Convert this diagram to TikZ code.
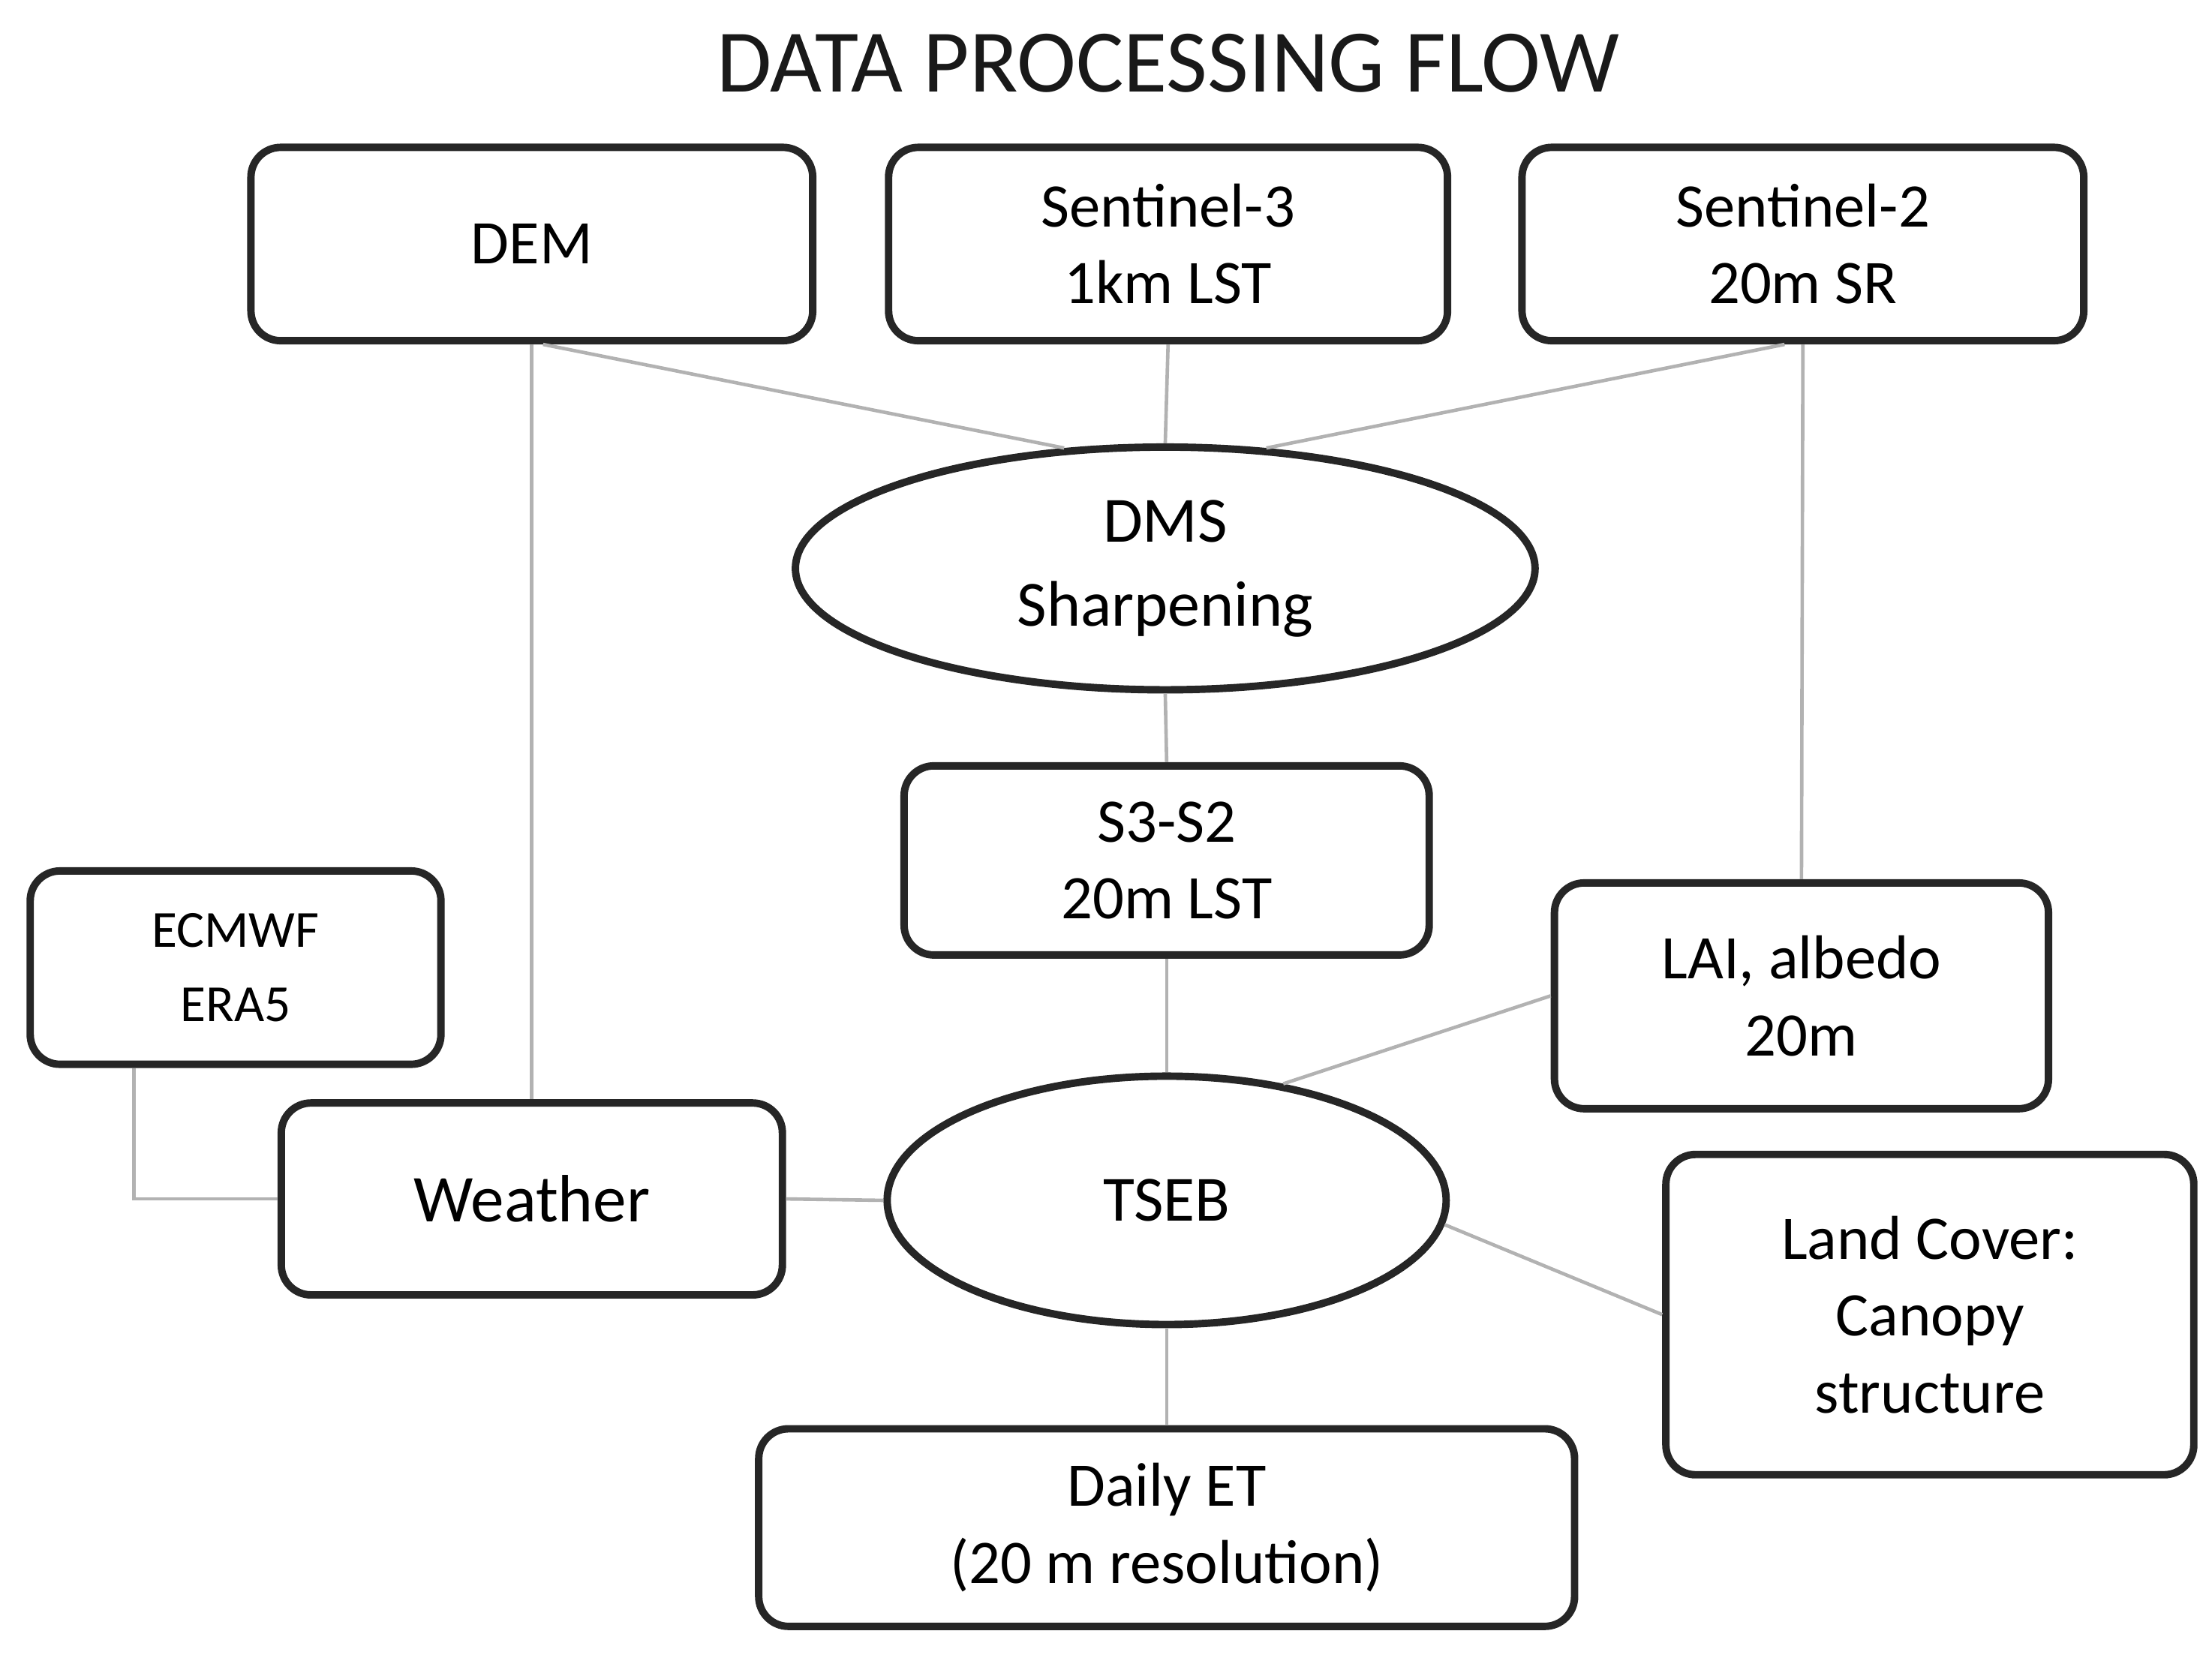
\documentclass[tikz,border=0pt]{standalone}
\usepackage{fontspec}
\setmainfont{Carlito}
\usetikzlibrary{shapes.geometric}
\begin{document}
\begin{tikzpicture}[x=0.01cm,y=-0.01cm,
 box/.style={draw=black!85,line width=1.5pt,rounded corners=6pt,align=center,inner sep=0pt,font=\fontsize{12.5}{15.5}\selectfont},
 ell/.style={draw=black!85,line width=1.5pt,ellipse,inner sep=0pt,align=center,font=\fontsize{13}{17}\selectfont},
 ln/.style={draw=black!30,line width=0.7pt}]
\useasboundingbox (0,0) rectangle (1568,1175);
\node[font=\fontsize{18}{20}\selectfont,text=black!90] (title) at (828,45) {DATA PROCESSING FLOW};
\node[box,minimum width=398\pgflinewidth/1.5pt*0.01cm,minimum width=3.98cm,minimum height=1.37cm] (dem) at (377,173) {DEM};
\node[box,minimum width=3.96cm,minimum height=1.37cm] (s3) at (828,173) {Sentinel-3\\1km LST};
\node[box,minimum width=3.98cm,minimum height=1.37cm] (s2) at (1278,173) {Sentinel-2\\20m SR};
\node[ell,minimum width=5.24cm,minimum height=1.72cm] (dms) at (826,403) {DMS\\Sharpening};
\node[box,minimum width=3.72cm,minimum height=1.34cm] (s3s2) at (827,610) {S3-S2\\20m LST};
\node[box,minimum width=2.91cm,minimum height=1.37cm,font=\fontsize{10.5}{15}\selectfont] (ec) at (167,686) {ECMWF\\ERA5};
\node[box,minimum width=3.5cm,minimum height=1.6cm] (lai) at (1277,706) {LAI, albedo\\20m};
\node[box,minimum width=3.55cm,minimum height=1.36cm,font=\fontsize{13.5}{16}\selectfont] (w) at (377,850) {Weather};
\node[ell,minimum width=3.96cm,minimum height=1.76cm] (tseb) at (827,851) {TSEB};
\node[box,minimum width=3.74cm,minimum height=2.27cm] (lc) at (1368,932) {Land Cover:\\Canopy\\structure};
\node[box,minimum width=5.78cm,minimum height=1.4cm] (et) at (827,1083) {Daily ET\\(20 m resolution)};
\draw[ln] (dem.south) -- (w.north);
\draw[ln] ([xshift=0.08cm]dem.south) -- (dms.130);
\draw[ln] (s3.south) -- (dms.north);
\draw[ln] ([xshift=-0.13cm]s2.south) -- (dms.50);
\draw[ln] (s2.south) -- (lai.north);
\draw[ln] (dms.south) -- (s3s2.north);
\draw[ln] (s3s2.south) -- (tseb.north);
\draw[ln] (lai.west) -- (tseb.45);
\draw[ln] (tseb.-5) -- (lc.west);
\draw[ln] (w.east) -- (tseb.west);
\draw[ln] ([xshift=-0.72cm]ec.south) |- (w.west);
\draw[ln] (tseb.south) -- (et.north);
\end{tikzpicture}
\end{document}
